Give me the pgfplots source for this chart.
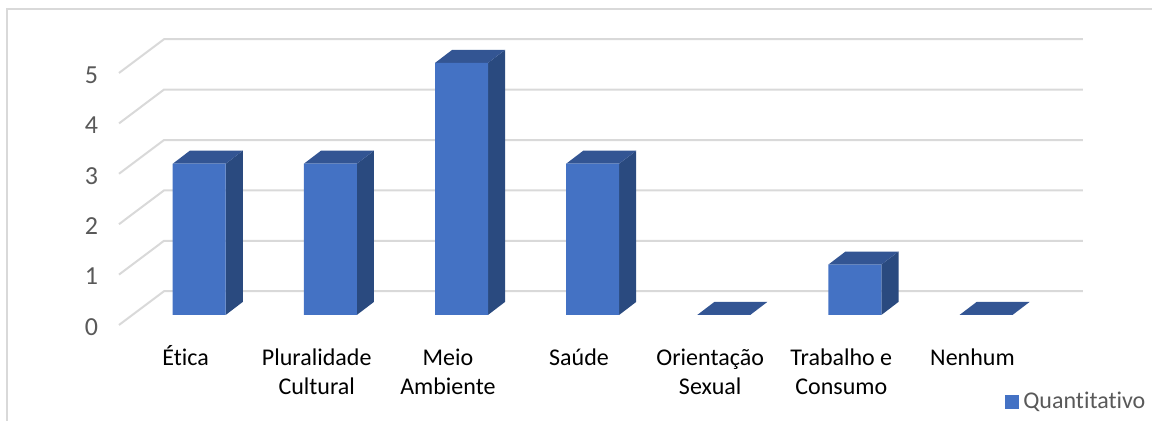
\documentclass[border=0pt]{standalone}
\usepackage{fontspec}
\setmainfont{Carlito}[Ligatures=NoCommon]
\usepackage{pgfplots}
\pgfplotsset{compat=1.18}
\definecolor{barfront}{HTML}{4472C4}
\definecolor{bartop}{HTML}{335593}
\definecolor{barside}{HTML}{2A4A7F}
\definecolor{gridgray}{HTML}{D9D9D9}
\definecolor{labelgray}{HTML}{595959}
\newcommand{\firstline}{\vphantom{É}}
\begin{document}
\begin{tikzpicture}
    % page frame, 1152x421 px at 0.5pt per px, axis corner at px (119,325)
    \path[use as bounding box] (-59.5pt,-48pt) rectangle (516.5pt,162.5pt);
    \draw[gridgray, line width=1pt] (-56pt,-48pt) -- (-56pt,158pt) -- (516.5pt,158pt);
    \begin{axis}[
        scale only axis,
        width=459pt,
        height=151.2pt,
        xmin=-0.508,
        xmax=6.492,
        ymin=-0.2,
        ymax=5.8,
        clip=false,
        axis line style={draw=none},
        major tick length=0pt,
        xtick={0,1,2,3,4,5,6},
        xticklabels={{Ética},{\firstline Pluralidade\\Cultural},{\firstline Meio\\Ambiente},{\firstline Saúde},{\firstline Orientação\\Sexual},{\firstline Trabalho e\\Consumo},{\firstline Nenhum}},
        xticklabel style={align=center, font=\fontsize{12}{14.5}\selectfont, text=black, yshift=-6.5pt},
        ytick={-0.2,0.8,1.8,2.8,3.8,4.8},
        yticklabels={0,1,2,3,4,5},
        yticklabel style={font=\fontsize{13}{15}\selectfont, text=labelgray, xshift=-7pt, yshift=-1pt},
        legend style={at={(axis cs:7.352,-2.0)}, anchor=south east, draw=none, fill=none,
            font=\fontsize{12}{14}\selectfont, text=labelgray, inner sep=0pt},
        legend image code/.code={\fill[#1] (-1pt,-3.5pt) rectangle (6pt,3.5pt);},
        unbounded coords=jump,
    ]
        % gridlines: front wall end, back wall corner, right end
        \addplot[forget plot, gridgray, line width=1pt, no markers] table {
            x y
            -0.508 -0.2
            -0.165 0.47
            6.841 0.47
            nan nan
            -0.508 0.8
            -0.165 1.47
            6.841 1.47
            nan nan
            -0.508 1.8
            -0.165 2.47
            6.841 2.47
            nan nan
            -0.508 2.8
            -0.165 3.47
            6.841 3.47
            nan nan
            -0.508 3.8
            -0.165 4.47
            6.841 4.47
            nan nan
            -0.508 4.8
            -0.165 5.47
            6.841 5.47
        };
        % side faces
        \addplot[forget plot, fill=barside, draw=none, no markers] table {
            x y
            0.306 0
            0.436 0.258
            0.436 3.258
            0.306 3
            nan nan
            1.306 0
            1.436 0.258
            1.436 3.258
            1.306 3
            nan nan
            2.306 0
            2.436 0.258
            2.436 5.258
            2.306 5
            nan nan
            3.306 0
            3.436 0.258
            3.436 3.258
            3.306 3
            nan nan
            5.306 0
            5.436 0.258
            5.436 1.258
            5.306 1
        };
        % top faces
        \addplot[forget plot, fill=bartop, draw=none, no markers] table {
            x y
            -0.098 3
            0.306 3
            0.436 3.258
            0.032 3.258
            nan nan
            0.902 3
            1.306 3
            1.436 3.258
            1.032 3.258
            nan nan
            1.902 5
            2.306 5
            2.436 5.258
            2.032 5.258
            nan nan
            2.902 3
            3.306 3
            3.436 3.258
            3.032 3.258
            nan nan
            3.902 0
            4.306 0
            4.436 0.258
            4.032 0.258
            nan nan
            4.902 1
            5.306 1
            5.436 1.258
            5.032 1.258
            nan nan
            5.902 0
            6.306 0
            6.436 0.258
            6.032 0.258
        };
        % front faces
        \addplot[ybar, bar width=26.5pt, bar shift=6.8pt, fill=barfront, draw=none] coordinates {
            (0,3) (1,3) (2,5) (3,3) (4,0) (5,1) (6,0)
        };
        \addlegendentry{Quantitativo}
    \end{axis}
\end{tikzpicture}
\end{document}
